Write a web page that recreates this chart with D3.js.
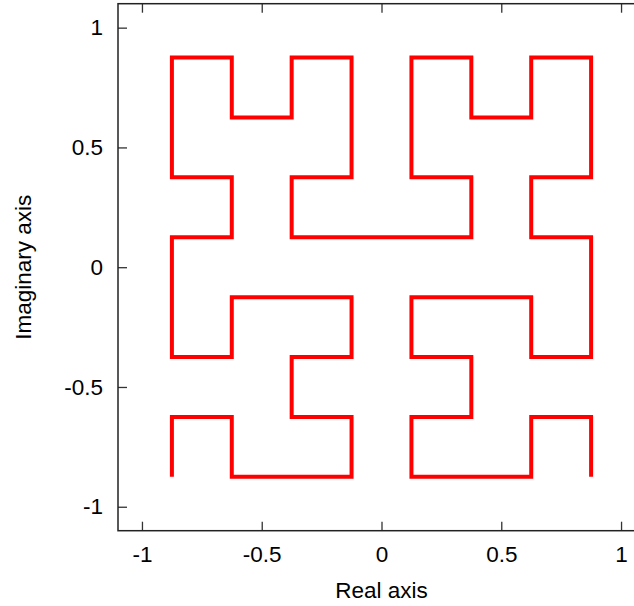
<html>
<head>
<meta charset="utf-8">
<script src="https://d3js.org/d3.v7.min.js"></script>
<style>
    body { margin: 0; background: #fff; }
    text { font-family: "Liberation Sans", Arial, sans-serif; fill: #000; }
</style>
</head>
<body>
<div id="chart"></div>
<script>
    // Hilbert curve points (order 3), in path order
    var xValues = [
        -0.875, -0.875, -0.625, -0.625, -0.375, -0.125, -0.125, -0.375,
        -0.375, -0.125, -0.125, -0.375, -0.625, -0.625, -0.875, -0.875,
        -0.875, -0.625, -0.625, -0.875, -0.875, -0.875, -0.625, -0.625,
        -0.375, -0.375, -0.125, -0.125, -0.125, -0.375, -0.375, -0.125,
         0.125,  0.375,  0.375,  0.125,  0.125,  0.125,  0.375,  0.375,
         0.625,  0.625,  0.875,  0.875,  0.875,  0.625,  0.625,  0.875,
         0.875,  0.875,  0.625,  0.625,  0.375,  0.125,  0.125,  0.375,
         0.375,  0.125,  0.125,  0.375,  0.625,  0.625,  0.875,  0.875
    ];
    var yValues = [
        -0.875, -0.625, -0.625, -0.875, -0.875, -0.875, -0.625, -0.625,
        -0.375, -0.375, -0.125, -0.125, -0.125, -0.375, -0.375, -0.125,
         0.125,  0.125,  0.375,  0.375,  0.625,  0.875,  0.875,  0.625,
         0.625,  0.875,  0.875,  0.625,  0.375,  0.375,  0.125,  0.125,
         0.125,  0.125,  0.375,  0.375,  0.625,  0.875,  0.875,  0.625,
         0.625,  0.875,  0.875,  0.625,  0.375,  0.375,  0.125,  0.125,
        -0.125, -0.375, -0.375, -0.125, -0.125, -0.125, -0.375, -0.375,
        -0.625, -0.625, -0.875, -0.875, -0.875, -0.625, -0.625, -0.875
    ];
    var xTicks = [-1, -0.5, 0, 0.5, 1];
    var yTicks = [-1, -0.5, 0, 0.5, 1];

    var width = 634;
    var height = 606;
    var plotLeft = 118, plotTop = 3.7, plotSize = 527;

    var xs = d3.scaleLinear().domain([-1.1, 1.1]).range([plotLeft, plotLeft + plotSize]);
    var ys = d3.scaleLinear().domain([-1.1, 1.1]).range([plotTop + plotSize, plotTop]);

    var svg = d3.select("#chart").append("svg")
        .attr("width", width)
        .attr("height", height);

    var fmt = function (d) { return String(d); };
    var fontSize = "22.5px";

    // bottom axis (ticks inward)
    var gx = svg.append("g")
        .attr("transform", "translate(0," + (plotTop + plotSize) + ")")
        .call(d3.axisBottom(xs).tickValues(xTicks).tickFormat(fmt)
            .tickSizeInner(-9).tickSizeOuter(0).tickPadding(15));
    // top mirror ticks
    var gxt = svg.append("g")
        .attr("transform", "translate(0," + plotTop + ")")
        .call(d3.axisTop(xs).tickValues(xTicks).tickFormat("")
            .tickSizeInner(-9).tickSizeOuter(0));
    // left axis
    var gy = svg.append("g")
        .attr("transform", "translate(" + plotLeft + ",0)")
        .call(d3.axisLeft(ys).tickValues(yTicks).tickFormat(fmt)
            .tickSizeInner(-9).tickSizeOuter(0).tickPadding(15));
    // right mirror ticks
    var gyr = svg.append("g")
        .attr("transform", "translate(" + (plotLeft + plotSize) + ",0)")
        .call(d3.axisRight(ys).tickValues(yTicks).tickFormat("")
            .tickSizeInner(-9).tickSizeOuter(0));

    [gx, gxt, gy, gyr].forEach(function (g) {
        g.select(".domain").remove();
        g.selectAll(".tick line").attr("stroke", "#333").attr("stroke-width", 1.3);
        g.selectAll("text").style("font-size", fontSize)
            .style("font-family", "'Liberation Sans', Arial, sans-serif")
            .attr("fill", "#000");
    });

    // border
    svg.append("rect")
        .attr("x", plotLeft)
        .attr("y", plotTop)
        .attr("width", plotSize)
        .attr("height", plotSize)
        .attr("fill", "none")
        .attr("stroke", "#222")
        .attr("stroke-width", 1.5);

    // curve
    var pts = xValues.map(function (x, i) { return [x, yValues[i]]; });
    svg.append("path")
        .datum(pts)
        .attr("fill", "none")
        .attr("stroke", "#ff0000")
        .attr("stroke-width", 4)
        .attr("stroke-linejoin", "miter")
        .attr("d", d3.line()
            .x(function (d) { return xs(d[0]); })
            .y(function (d) { return ys(d[1]); }));

    // axis labels
    svg.append("text")
        .attr("x", xs(0))
        .attr("y", 598)
        .attr("text-anchor", "middle")
        .style("font-size", fontSize)
        .text("Real axis");

    svg.append("text")
        .attr("transform", "translate(31," + ys(0) + ") rotate(-90)")
        .attr("text-anchor", "middle")
        .style("font-size", fontSize)
        .text("Imaginary axis");
</script>
</body>
</html>
